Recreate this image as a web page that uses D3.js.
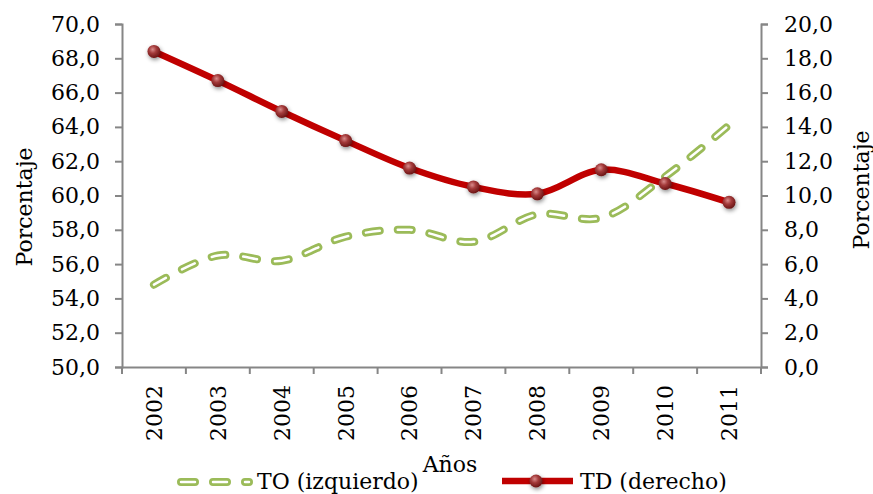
<!DOCTYPE html>
<html>
<head>
<meta charset="utf-8">
<script src="https://cdn.jsdelivr.net/npm/d3@7"></script>
<style>
  body { margin: 0; background: #fff; }
  .tick text { font-family: "DejaVu Serif", "Liberation Serif", serif; font-size: 22px; fill: #000; }
  .domain, .tick line { stroke: #868686; stroke-width: 2px; }
  .lbl { font-family: "DejaVu Serif", "Liberation Serif", serif; font-size: 22px; fill: #000; }
</style>
</head>
<body>
<div id="chart"></div>
<script>
var years = ["2002", "2003", "2004", "2005", "2006", "2007", "2008", "2009", "2010", "2011"];
var toValues = [54.8, 56.5, 56.2, 57.6, 58.0, 57.3, 58.9, 58.7, 61.1, 64.1];
var tdValues = [18.4, 16.7, 14.9, 13.2, 11.6, 10.5, 10.1, 11.5, 10.7, 9.6];
var leftTicks = [50, 52, 54, 56, 58, 60, 62, 64, 66, 68, 70];
var rightTicks = [0, 2, 4, 6, 8, 10, 12, 14, 16, 18, 20];

var svgWidth = 873;
var svgHeight = 494;
var margin = { top: 24, right: 112, bottom: 127, left: 122 };
var width = svgWidth - margin.left - margin.right;
var height = svgHeight - margin.top - margin.bottom;

var svg = d3.select("#chart")
    .append("svg")
    .attr("width", svgWidth)
    .attr("height", svgHeight);

// sphere-like marker gradient + soft shadow
var defs = svg.append("defs");
var grad = defs.append("radialGradient").attr("id", "ball")
    .attr("cx", "40%").attr("cy", "35%").attr("r", "65%");
grad.append("stop").attr("offset", "0%").attr("stop-color", "#d98b8b");
grad.append("stop").attr("offset", "45%").attr("stop-color", "#a33a3a");
grad.append("stop").attr("offset", "100%").attr("stop-color", "#6b1515");
var shadow = defs.append("filter").attr("id", "shadow")
    .attr("x", "-100%").attr("y", "-100%").attr("width", "300%").attr("height", "300%");
shadow.append("feDropShadow").attr("dx", 1).attr("dy", 2).attr("stdDeviation", 2)
    .attr("flood-color", "#000").attr("flood-opacity", 0.45);

var chartGroup = svg.append("g")
    .attr("transform", `translate(${margin.left}, ${margin.top})`);

var xScale = d3.scaleBand().domain(years).range([0, width]);
var yLeft = d3.scaleLinear().domain([50, 70]).range([height, 0]);
var yRight = d3.scaleLinear().domain([0, 20]).range([height, 0]);

var fmt = d => d3.format(".1f")(d).replace(".", ",");

// axes
var leftAxis = d3.axisLeft(yLeft).tickValues(leftTicks).tickSize(7).tickPadding(15).tickFormat(fmt);
var rightAxis = d3.axisRight(yRight).tickValues(rightTicks).tickSize(7).tickPadding(16).tickFormat(fmt);

chartGroup.append("g").call(leftAxis);
chartGroup.append("g").attr("transform", `translate(${width}, 0)`).call(rightAxis);

var xAxisG = chartGroup.append("g")
    .attr("transform", `translate(0, ${height})`)
    .call(d3.axisBottom(xScale).tickSize(0).tickSizeOuter(0));
xAxisG.selectAll(".tick text")
    .attr("transform", "rotate(-90)")
    .attr("text-anchor", "end")
    .attr("x", -18)
    .attr("y", 0)
    .attr("dy", "0.36em");
// tick marks between categories
xAxisG.selectAll(".sep")
    .data(d3.range(years.length + 1))
    .enter()
    .append("line")
    .attr("class", "sep")
    .attr("x1", i => i * xScale.step())
    .attr("x2", i => i * xScale.step())
    .attr("y1", 0)
    .attr("y2", 7)
    .attr("stroke", "#868686")
    .attr("stroke-width", 2);

var cx = d => xScale(d) + xScale.bandwidth() / 2;

// TO line (left axis), green dashed with white core
var toLine = d3.line()
    .x((d, i) => cx(years[i]))
    .y(d => yLeft(d))
    .curve(d3.curveCatmullRom.alpha(0.5));

chartGroup.append("path")
    .datum(toValues)
    .attr("d", toLine)
    .attr("fill", "none")
    .attr("stroke", "#9bbb59")
    .attr("stroke-width", 8)
    .attr("stroke-linecap", "round")
    .attr("stroke-dasharray", "14,18");
chartGroup.append("path")
    .datum(toValues)
    .attr("d", toLine)
    .attr("fill", "none")
    .attr("stroke", "#fff")
    .attr("stroke-width", 2.5)
    .attr("stroke-linecap", "round")
    .attr("stroke-dasharray", "14,18");

// TD line (right axis)
var tdLine = d3.line()
    .x((d, i) => cx(years[i]))
    .y(d => yRight(d))
    .curve(d3.curveCatmullRom.alpha(0.5));

chartGroup.append("path")
    .datum(tdValues)
    .attr("d", tdLine)
    .attr("fill", "none")
    .attr("stroke", "#c00000")
    .attr("stroke-width", 6.5)
    .attr("stroke-linejoin", "round");

chartGroup.append("g")
    .selectAll("circle")
    .data(tdValues)
    .enter()
    .append("circle")
    .attr("cx", (d, i) => cx(years[i]))
    .attr("cy", d => yRight(d))
    .attr("r", 6.5)
    .attr("fill", "url(#ball)")
    .attr("filter", "url(#shadow)");

// axis titles
svg.append("text")
    .attr("class", "lbl")
    .attr("transform", "translate(32, 207) rotate(-90)")
    .attr("text-anchor", "middle")
    .text("Porcentaje");
svg.append("text")
    .attr("class", "lbl")
    .attr("transform", "translate(869, 190) rotate(-90)")
    .attr("text-anchor", "middle")
    .text("Porcentaje");
svg.append("text")
    .attr("class", "lbl")
    .attr("x", 450)
    .attr("y", 472)
    .attr("text-anchor", "middle")
    .text("Años");

// legend
var legend = svg.append("g");
legend.append("line")
    .attr("x1", 181).attr("x2", 249).attr("y1", 482).attr("y2", 482)
    .attr("stroke", "#9bbb59").attr("stroke-width", 8)
    .attr("stroke-linecap", "round").attr("stroke-dasharray", "14,18");
legend.append("line")
    .attr("x1", 181).attr("x2", 249).attr("y1", 482).attr("y2", 482)
    .attr("stroke", "#fff").attr("stroke-width", 2.5)
    .attr("stroke-linecap", "round").attr("stroke-dasharray", "14,18");
legend.append("text")
    .attr("class", "lbl")
    .attr("x", 257).attr("y", 489)
    .text("TO (izquierdo)");
legend.append("line")
    .attr("x1", 502).attr("x2", 573).attr("y1", 481).attr("y2", 481)
    .attr("stroke", "#c00000").attr("stroke-width", 6.5);
legend.append("circle")
    .attr("cx", 536).attr("cy", 481).attr("r", 6.5)
    .attr("fill", "url(#ball)").attr("filter", "url(#shadow)");
legend.append("text")
    .attr("class", "lbl")
    .attr("x", 580).attr("y", 489)
    .text("TD (derecho)");
</script>
</body>
</html>
